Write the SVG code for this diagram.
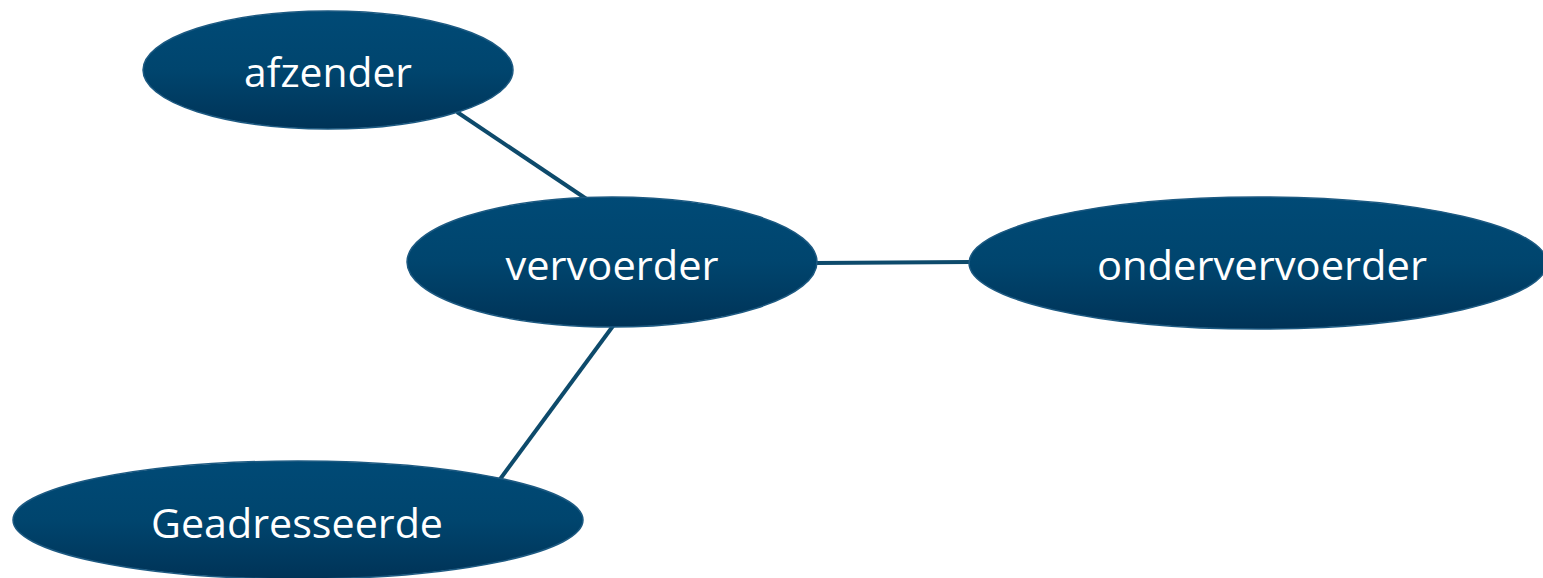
<svg xmlns="http://www.w3.org/2000/svg" width="1543" height="578" viewBox="0 0 1543 578">
  <style>
    .node { fill: url(#nodeFill); stroke: #1d5a82; stroke-width: 1.5; }
    .label { font-family: "Open Sans", "Noto Sans", "Liberation Sans", sans-serif; font-size: 40px; fill: #ffffff; text-anchor: middle; }
    .link { stroke: #0d4a6b; stroke-width: 4; fill: none; }
  </style>
  <defs>
    <linearGradient id="nodeFill" x1="0" y1="0" x2="0" y2="1">
      <stop offset="0" stop-color="#004a76"/>
      <stop offset="0.5" stop-color="#00456e"/>
      <stop offset="1" stop-color="#003357"/>
    </linearGradient>
  </defs>
  <rect width="1543" height="578" fill="#ffffff"/>
  <g id="connectors">
    <line class="link" x1="457" y1="112" x2="588" y2="200"/>
    <line class="link" x1="816" y1="263" x2="970" y2="262"/>
    <line class="link" x1="613" y1="326" x2="498" y2="482"/>
  </g>
  <g id="afzender">
    <ellipse class="node" cx="328" cy="70" rx="185" ry="59"/>
    <text class="label" x="328" y="87" textLength="168" lengthAdjust="spacingAndGlyphs">afzender</text>
  </g>
  <g id="vervoerder">
    <ellipse class="node" cx="612" cy="262" rx="205" ry="65"/>
    <text class="label" x="612" y="280" textLength="213" lengthAdjust="spacingAndGlyphs">vervoerder</text>
  </g>
  <g id="ondervervoerder">
    <ellipse class="node" cx="1258" cy="263" rx="289" ry="66"/>
    <text class="label" x="1262" y="280" textLength="330" lengthAdjust="spacingAndGlyphs">ondervervoerder</text>
  </g>
  <g id="geadresseerde">
    <ellipse class="node" cx="298" cy="520" rx="285" ry="59"/>
    <text class="label" x="297" y="538" textLength="292" lengthAdjust="spacingAndGlyphs">Geadresseerde</text>
  </g>
</svg>
